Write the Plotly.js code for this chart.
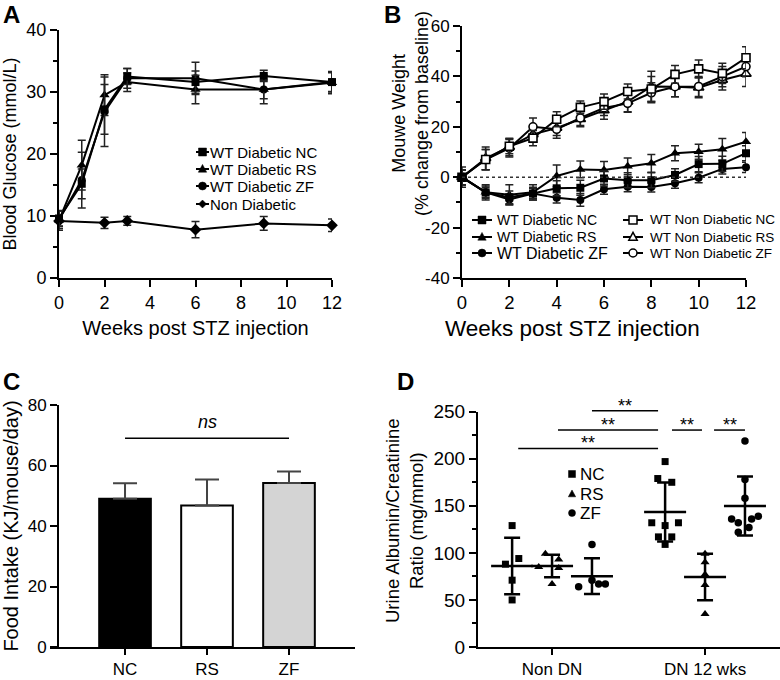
<!DOCTYPE html>
<html>
<head>
<meta charset="utf-8">
<script src="https://cdn.plot.ly/plotly-3.0.1.min.js"></script>
<style>html,body{margin:0;padding:0;background:#fff;}#chart{width:780px;height:680px;}</style>
</head>
<body>
<div id="chart"></div>
<script>
// ---------------- DATA ----------------
// Panel A: blood glucose (mmol/L)
const weeksA = [0, 1, 2, 3, 6, 9, 12];
const glucNC = [9.6, 15.2, 27.2, 32.5, 31.6, 32.6, 31.6];
const glucNCErr = [1.2, 2.4, 4.0, 1.3, 1.8, 0.9, 1.6];
const glucRS = [9.3, 18.2, 29.5, 31.6, 30.4, 30.4, 31.5];
const glucRSErr = [1.6, 4.0, 3.3, 1.5, 2.3, 2.3, 1.8];
const glucZF = [9.4, 15.8, 26.8, 32.2, 32.2, 30.4, 31.6];
const glucZFErr = [1.4, 4.5, 5.6, 1.6, 2.6, 1.5, 1.5];
const weeksNonDiab = [0, 2, 3, 6, 9, 12];
const glucNon = [9.2, 8.9, 9.2, 7.8, 8.8, 8.5];
const glucNonErr = [0.9, 0.9, 0.7, 1.3, 1.1, 1.0];

// Panel B: weight (% change from baseline)
const weeksB = [0, 1, 2, 3, 4, 5, 6, 7, 8, 9, 10, 11, 12];
const wtDiabNC = [0, -6, -8, -6.5, -4.4, -4.2, -0.5, -1.2, -1.2, 0.9, 5.2, 5.3, 9.5];
const wtDiabNCErr = [3, 2.5, 2.5, 2.5, 3, 3, 3, 3, 3, 2.5, 3, 3, 3];
const wtDiabRS = [0, -6, -7, -6, 0.5, 3.1, 2.9, 4.3, 5.5, 9.5, 10.1, 11.1, 14.1];
const wtDiabRSErr = [4, 3, 4, 3, 4.3, 3.3, 3.3, 3.3, 3.5, 3, 3, 4.3, 3.6];
const wtDiabZF = [0, -6, -8.8, -6.5, -8.2, -9.0, -4.8, -3.8, -3.9, -2.4, -0.2, 3.3, 3.9];
const wtDiabZFErr = [3, 2, 2, 2, 2, 2.5, 2, 2, 2, 2, 2, 2, 2];
const wtNonNC = [0, 7, 12.3, 15.5, 23, 27.7, 30, 34, 35, 40.8, 43, 41.2, 47.4];
const wtNonNCErr = [3, 4, 3, 3, 3, 2.5, 3, 3, 5, 3.5, 3.5, 4, 4.4];
const wtNonRS = [0, 7.5, 12, 17, 19.5, 23, 26.5, 30, 36, 35.9, 35.5, 38.6, 41];
const wtNonRSErr = [3, 4.5, 3.5, 3, 3, 3, 3.5, 4, 6, 4, 4, 4, 5];
const wtNonZF = [0, 7, 11.5, 20, 19, 23.5, 27.5, 29.3, 33.5, 35.9, 36, 39.9, 43.9];
const wtNonZFErr = [3, 4, 3.5, 3.5, 3.5, 3, 3, 3.5, 4, 4, 4, 4, 4];
const tickValsB = [-40, -20, 0, 20, 40, 60];
const tickTextB = ['-40', '-20', '0', '20', '40', '60'];

// Panel C: food intake (KJ/mouse/day)
const dietsC = ['NC', 'RS', 'ZF'];
const intake = [49.0, 46.8, 54.2];
const intakeErr = [5.1, 8.6, 3.8];
const intakeErrMinus = [0, 0, 0];
const nsLevel = 69;

// Panel D: urine albumin / creatinine (mg/mmol)
const groupsD = ['Non DN', 'DN 12 wks'];
const uacrNCNon = [129, 88, 94, 71, 50];
const jitNCNon = [0, -1, 1, 0, 0];
const uacrRSNon = [99, 93, 85, 84, 67];
const jitRSNon = [-1, 1, -2, 1, 0];
const uacrZFNon = [109, 64, 71, 67, 67];
const jitZFNon = [0, -2, 0, 1, 2];
const uacrNCDN = [197, 179, 175, 132, 132, 129, 117, 117, 109];
const jitNCDN = [0, -1.1, 1, -2, 2, 0, -1, 1, 0];
const uacrRSDN = [99, 90, 77, 66, 35];
const jitRSDN = [0, 0, 0, 0, 0];
const uacrZFDN = [219, 178, 158, 136, 139, 132, 136, 122, 127];
const jitZFDN = [0, 0, 0, -2, 2, -1, 1, -1, 0.6];
const meanNC = [86, 143.4];
const sdNC = [30, 31.3];
const meanRS = [86, 74.4];
const sdRS = [12, 24.6];
const meanZF = [75.3, 149.8];
const sdZF = [19.1, 31.3];
// significance brackets
const sigLevel = [251, 230.5, 211, 230.5, 230.5];
const sigLabel = ['**', '**', '**', '**', '**'];

// ---------------- LAYOUT HELPERS ----------------
const W = 780, H = 680;
const fx = p => p / W;
const fy = p => 1 - p / H;
const FONT = 'Liberation Sans, Arial, sans-serif';
const SUB = 0.261;     // sub-group offset (NC / RS / ZF) on D axis
const JIT = 0.0436;    // jitter step on D axis
// bracket extents on D's axis (units of group index)
const sigX0 = [1 + SUB, 1 + 0.039, 1 - SUB + 0.04, 1.784, 2.059];
const sigX1 = [1.693, 1.693, 1.693, 1.98, 2 + SUB];

function axisBase(extra) {
  return Object.assign({
    showline: true, linecolor: '#000', linewidth: 2,
    ticks: 'outside', ticklen: 7, tickwidth: 2, tickcolor: '#000',
    showgrid: false, zeroline: false, fixedrange: true,
    tickfont: {family: FONT, size: 18, color: '#000'}
  }, extra);
}
function minorTicks(d) {
  return {dtick: d, ticks: 'outside', ticklen: 4, tickwidth: 2, tickcolor: '#000', showgrid: false};
}

const traces = [];
const errStyle = (arr) => ({type: 'data', array: arr, visible: true, color: '#222', thickness: 1.5, width: 4});

function lineTrace(x, y, err, sym, size, xa, ya, open) {
  return {
    type: 'scatter', mode: 'lines+markers', x: x, y: y, xaxis: xa, yaxis: ya,
    cliponaxis: false,
    line: {color: '#000', width: 2},
    marker: {symbol: sym, size: size, color: open ? '#fff' : '#000', line: {color: '#000', width: open ? 1.6 : 0}},
    error_y: errStyle(err), hoverinfo: 'x+y'
  };
}
// ---- Panel A ----
traces.push(lineTrace(weeksNonDiab, glucNon, glucNonErr, 'diamond', 9, 'x', 'y'));
traces.push(lineTrace(weeksA, glucZF, glucZFErr, 'circle', 8, 'x', 'y'));
traces.push(lineTrace(weeksA, glucRS, glucRSErr, 'triangle-up', 9, 'x', 'y'));
traces.push(lineTrace(weeksA, glucNC, glucNCErr, 'square', 8, 'x', 'y'));

// ---- Panel B ----
traces.push(lineTrace(weeksB, wtNonRS, wtNonRSErr, 'triangle-up', 9, 'x2', 'y2', true));
traces.push(lineTrace(weeksB, wtNonZF, wtNonZFErr, 'circle', 8, 'x2', 'y2', true));
traces.push(lineTrace(weeksB, wtNonNC, wtNonNCErr, 'square', 8, 'x2', 'y2', true));
traces.push(lineTrace(weeksB, wtDiabZF, wtDiabZFErr, 'circle', 8, 'x2', 'y2'));
traces.push(lineTrace(weeksB, wtDiabRS, wtDiabRSErr, 'triangle-up', 9, 'x2', 'y2'));
traces.push(lineTrace(weeksB, wtDiabNC, wtDiabNCErr, 'square', 8, 'x2', 'y2'));

// ---- Panel C ----
traces.push({
  type: 'bar', x: dietsC, y: intake, xaxis: 'x3', yaxis: 'y3', width: 0.63,
  marker: {color: ['#000', '#fff', '#d4d4d4'], line: {color: '#000', width: 2}},
  error_y: {type: 'data', symmetric: false, array: intakeErr, arrayminus: intakeErrMinus, color: '#444', thickness: 2, width: 12},
  hoverinfo: 'x+y'
});

// ---- Panel D ----
function dotX(groupIdx, sub, jit) {
  return jit.map(j => groupIdx + 1 + sub * SUB + j * JIT);
}
function dots(sym, size, xs, ys) {
  return {type: 'scatter', mode: 'markers', x: xs, y: ys, xaxis: 'x4', yaxis: 'y4', cliponaxis: false,
    marker: {symbol: sym, size: size, color: '#000'}, hoverinfo: 'y'};
}
traces.push(dots('square', 7, dotX(0, -1, jitNCNon).concat(dotX(1, -1, jitNCDN)), uacrNCNon.concat(uacrNCDN)));
traces.push(dots('triangle-up', 8, dotX(0, 0, jitRSNon).concat(dotX(1, 0, jitRSDN)), uacrRSNon.concat(uacrRSDN)));
traces.push(dots('circle', 7.5, dotX(0, 1, jitZFNon).concat(dotX(1, 1, jitZFDN)), uacrZFNon.concat(uacrZFDN)));
function meanTrace(sub, means, sds) {
  return {type: 'scatter', mode: 'markers', x: groupsD.map((g, i) => i + 1 + sub * SUB), y: means,
    xaxis: 'x4', yaxis: 'y4', cliponaxis: false,
    marker: {symbol: 'line-ew', size: 30, line: {color: '#000', width: 2.5}},
    error_y: {type: 'data', array: sds, color: '#000', thickness: 2.5, width: 8}, hoverinfo: 'y'};
}
traces.push(meanTrace(-1, meanNC, sdNC));
traces.push(meanTrace(0, meanRS, sdRS));
traces.push(meanTrace(1, meanZF, sdZF));

const shapes = [];
const annotations = [];
// significance brackets on an invisible taller axis sharing D's value scale
sigLevel.forEach((lv, i) => {
  shapes.push({type: 'line', xref: 'x4', yref: 'y5', x0: sigX0[i], x1: sigX1[i], y0: lv, y1: lv,
    line: {color: '#000', width: 1.5}});
  annotations.push({xref: 'x4', yref: 'y5', x: (sigX0[i] + sigX1[i]) / 2, y: lv + 5.5,
    text: sigLabel[i], showarrow: false, yanchor: 'middle', font: {family: FONT, size: 18, color: '#000'}});
});

// C: ns line
shapes.push({type: 'line', xref: 'x3', yref: 'y3', x0: 0, x1: 2, y0: nsLevel, y1: nsLevel, line: {color: '#000', width: 1.5}});
annotations.push({xref: 'x3', yref: 'y3', x: 1, y: nsLevel + 5.5, text: '<i>ns</i>', showarrow: false,
  yanchor: 'middle', font: {family: FONT, size: 18, color: '#000'}});

// B: dotted baseline
shapes.push({type: 'line', xref: 'x2', yref: 'y2', x0: 0, x1: 12, y0: 0, y1: 0, line: {color: '#333', width: 1.5, dash: 'dot'}});

// ---- manual legend keys ----
function addKey(cx, cy, sym, open, size, half) {
  if (half > 0) {
    shapes.push({type: 'line', xref: 'paper', yref: 'paper', x0: fx(cx - half), x1: fx(cx + half), y0: fy(cy), y1: fy(cy),
      line: {color: '#000', width: 2}});
  }
  const fill = open ? '#fff' : '#000';
  const ln = {color: '#000', width: open ? 1.5 : 0.5};
  const r = size / 2;
  if (sym === 'square' || sym === 'circle') {
    shapes.push({type: sym === 'square' ? 'rect' : 'circle', xref: 'paper', yref: 'paper',
      x0: fx(cx - r), x1: fx(cx + r), y0: fy(cy + r), y1: fy(cy - r), fillcolor: fill, line: ln});
  } else if (sym === 'triangle') {
    shapes.push({type: 'path', xref: 'paper', yref: 'paper', fillcolor: fill, line: ln,
      path: `M${fx(cx)},${fy(cy - r * 1.15)} L${fx(cx + r * 1.05)},${fy(cy + r * 0.8)} L${fx(cx - r * 1.05)},${fy(cy + r * 0.8)} Z`});
  } else if (sym === 'diamond') {
    shapes.push({type: 'path', xref: 'paper', yref: 'paper', fillcolor: fill, line: ln,
      path: `M${fx(cx)},${fy(cy - r)} L${fx(cx + r)},${fy(cy)} L${fx(cx)},${fy(cy + r)} L${fx(cx - r)},${fy(cy)} Z`});
  }
}
function addLabel(x, y, text, size) {
  annotations.push({xref: 'paper', yref: 'paper', x: fx(x), y: fy(y), xanchor: 'left', yanchor: 'middle',
    text: text, showarrow: false, font: {family: FONT, size: size, color: '#000'}});
}
// A legend
const legA = [['WT Diabetic NC', 'square'], ['WT Diabetic RS', 'triangle'], ['WT Diabetic ZF', 'circle'], ['Non Diabetic', 'diamond']];
const legARows = [152, 169, 186, 204];
legA.forEach((e, i) => { addKey(202.5, legARows[i], e[1], false, 8, 6.5); addLabel(208, legARows[i], e[0], 15); });
// B legend
const legBLeft = [['WT Diabetic NC', 'square', 14], ['WT Diabetic RS', 'triangle', 14], ['WT Diabetic ZF', 'circle', 16]];
const legBRight = [['WT Non Diabetic NC', 'square'], ['WT Non Diabetic RS', 'triangle'], ['WT Non Diabetic ZF', 'circle']];
const legBRows = [220, 237, 253];
legBLeft.forEach((e, i) => { addKey(482, legBRows[i], e[1], false, 8, 10); addLabel(495, legBRows[i], e[0], e[2]); });
legBRight.forEach((e, i) => { addKey(633, legBRows[i], e[1], true, 8, 10); addLabel(648, legBRows[i], e[0], 13.5); });
// D legend
const legD = [['NC', 'square'], ['RS', 'triangle'], ['ZF', 'circle']];
const legDRows = [474, 494, 513];
legD.forEach((e, i) => { addKey(572, legDRows[i], e[1], false, 7, 0); addLabel(578, legDRows[i], e[0], 17); });

// panel letters
[['A', 11, 14], ['B', 392, 14], ['C', 11, 381], ['D', 405, 381]].forEach(p => {
  annotations.push({xref: 'paper', yref: 'paper', x: fx(p[1]), y: fy(p[2]), xanchor: 'center', yanchor: 'middle',
    text: '<b>' + p[0] + '</b>', showarrow: false, font: {family: FONT, size: 24, color: '#000'}});
});
// titles placed off-centre in the reference (B x title, B and D two-line y titles)
annotations.push({xref: 'paper', yref: 'paper', x: fx(572), y: fy(328), xanchor: 'center', yanchor: 'middle',
  text: 'Weeks post STZ injection', showarrow: false, font: {family: FONT, size: 22.5, color: '#000'}});
annotations.push({xref: 'paper', yref: 'paper', x: fx(411), y: fy(114), xanchor: 'center', yanchor: 'middle', textangle: -90,
  text: 'Mouwe Weight<br>(% change from baseline)', showarrow: false, font: {family: FONT, size: 18, color: '#000'}});
annotations.push({xref: 'paper', yref: 'paper', x: fx(404), y: fy(521), xanchor: 'center', yanchor: 'middle', textangle: -90,
  text: 'Urine Albumin/Creatinine<br>Ratio (mg/mmol)', showarrow: false, font: {family: FONT, size: 18.5, color: '#000'}});

const pxD = (647 - 411.7) / 250;  // px per unit on D's value axis

const layout = {
  width: W, height: H, margin: {l: 0, r: 0, t: 0, b: 0},
  paper_bgcolor: '#fff', plot_bgcolor: 'rgba(0,0,0,0)', showlegend: false,
  font: {family: FONT, color: '#000'},
  xaxis: axisBase({domain: [fx(59), fx(332)], range: [0, 12], dtick: 2, anchor: 'y',
    title: {text: 'Weeks post STZ injection', font: {family: FONT, size: 20, color: '#000'}, standoff: 9}}),
  yaxis: axisBase({domain: [fy(278), fy(30)], range: [0, 40], dtick: 10, anchor: 'x', minor: minorTicks(5),
    title: {text: 'Blood Glucose (mmol/L)', font: {family: FONT, size: 18, color: '#000'}, standoff: 7}}),
  xaxis2: axisBase({domain: [fx(462), fx(746)], range: [0, 12], dtick: 2, anchor: 'y2',
    tickfont: {family: FONT, size: 18.5, color: '#000'}}),
  yaxis2: axisBase({domain: [fy(278), fy(26)], range: [-40, 60], tickvals: tickValsB, ticktext: tickTextB, anchor: 'x2',
    minor: minorTicks(10), tickfont: {family: FONT, size: 17, color: '#000'}}),
  xaxis3: axisBase({domain: [fx(50), fx(355)], type: 'category', range: [-0.915, 2.805], anchor: 'y3', ticklen: 6,
    tickfont: {family: FONT, size: 17, color: '#000'}}),
  yaxis3: axisBase({domain: [fy(647), fy(405)], range: [0, 80], dtick: 20, anchor: 'free', position: fx(58),
    tickfont: {family: FONT, size: 17, color: '#000'},
    title: {text: 'Food Intake (KJ/mouse/day)', font: {family: FONT, size: 20, color: '#000'}, standoff: 7}}),
  xaxis4: axisBase({domain: [fx(478), 1], range: [0.516, 2.49], tickvals: [1, 2], ticktext: groupsD, anchor: 'y4',
    ticklen: 6, tickfont: {family: FONT, size: 17, color: '#000'}}),
  yaxis4: axisBase({domain: [fy(647), fy(411.7)], range: [0, 250], dtick: 50, anchor: 'x4', minor: minorTicks(25),
    tickfont: {family: FONT, size: 19, color: '#000'}}),
  yaxis5: {domain: [fy(647), fy(647 - 270 * pxD)], range: [0, 270], anchor: 'x4', visible: false, fixedrange: true,
    showgrid: false, zeroline: false},
  shapes: shapes,
  annotations: annotations
};

Plotly.newPlot('chart', traces, layout, {displayModeBar: false, staticPlot: true});
</script>
</body>
</html>
